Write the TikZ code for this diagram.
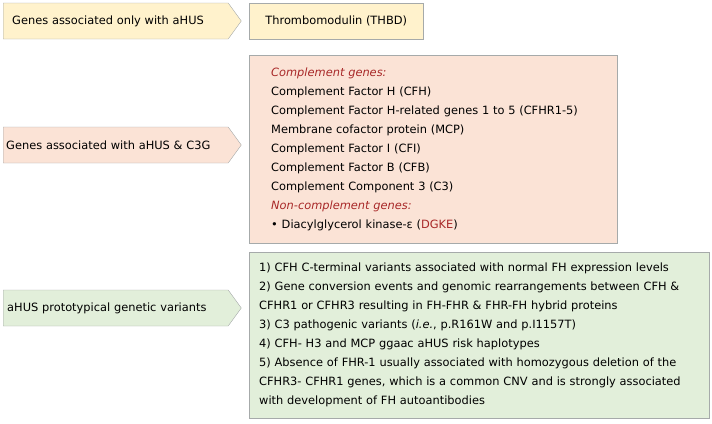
\documentclass[tikz,border=0pt]{standalone}
\usepackage{fontspec}
\setmainfont{DejaVu Sans}
\usetikzlibrary{shapes.symbols, positioning}
\definecolor{pyellow}{HTML}{FFF2CC}
\definecolor{ppink}{HTML}{FBE3D6}
\definecolor{pgreen}{HTML}{E2EFDA}
\definecolor{pred}{HTML}{A82828}
\definecolor{pline}{HTML}{A6AAAA}

\begin{document}
\begin{tikzpicture}[x=1pt, y=-1pt,
		every node/.style={font=\fontsize{11.4}{19}\selectfont},
		group/.style={
			draw=pline,
			signal, signal to=east,
			signal pointer angle=108,
			minimum width=235pt,
			minimum height=36pt,
			inner sep=0pt, text width=225pt},
		genes/.style={
			draw=pline,
			rectangle,
			anchor=north west,
			inner xsep=22pt, inner ysep=7pt,
			align=left}]
		\useasboundingbox (0,0) rectangle (712,423);
		\node (only) [group, fill=pyellow, anchor=west] at (3,21) {\hspace*{9pt}Genes associated only with aHUS};
		\node (both) [group, fill=ppink, anchor=west] at (3,145) {\hspace*{3pt}Genes associated with aHUS \& C3G};
		\node (proto) [group, fill=pgreen, anchor=west] at (3,308) {\hspace*{4pt}aHUS prototypical genetic variants};

		\node (thbd) [genes, fill=pyellow, minimum width=174pt, minimum height=36pt, inner xsep=10pt] at (249,3) {Thrombomodulin (THBD)};
		\node (cgenes) [genes, fill=ppink, minimum width=368pt, minimum height=188pt, text width=324pt] at (249,55) {%
			\textcolor{pred}{\textit{Complement genes:}}\\
			Complement Factor H (CFH)\\
			Complement Factor H-related genes 1 to 5 (CFHR1-5)\\
			Membrane cofactor protein (MCP)\\
			Complement Factor I (CFI)\\
			Complement Factor B (CFB)\\
			Complement Component 3 (C3)\\
			\textcolor{pred}{\textit{Non-complement genes:}}\\
			• Diacylglycerol kinase-ε (\textcolor{pred}{DGKE})};
		\node (variants) [genes, fill=pgreen, minimum width=460pt, minimum height=166pt, text width=440pt, inner xsep=10pt] at (249,252) {%
			1) CFH C-terminal variants associated with normal FH expression levels\\
			2) Gene conversion events and genomic rearrangements between CFH \&\\
			CFHR1 or CFHR3 resulting in FH-FHR \& FHR-FH hybrid proteins\\
			3) C3 pathogenic variants (\textit{i.e.}, p.R161W and p.I1157T)\\
			4) CFH- H3 and MCP ggaac aHUS risk haplotypes\\
			5) Absence of FHR-1 usually associated with homozygous deletion of the\\
			CFHR3- CFHR1 genes, which is a common CNV and is strongly associated\\
			with development of FH autoantibodies};
	\end{tikzpicture}
\end{document}
